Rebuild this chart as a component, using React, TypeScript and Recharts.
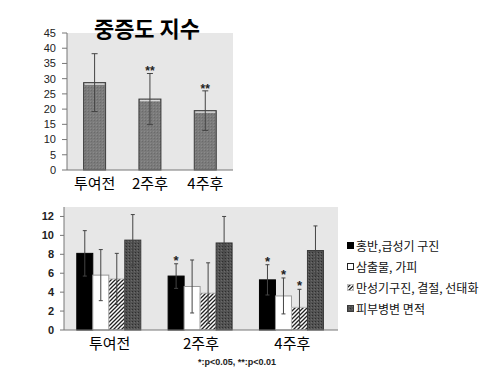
import React from "react";
import { BarChart, Bar, XAxis, YAxis, CartesianGrid, ErrorBar } from "recharts";

const categories = ["투여전", "2주후", "4주후"];

// 중증도 지수
const severity = [28.7, 23.3, 19.5];
const severityErr = [9.5, 8.4, 6.5];
const severitySig = ["", "**", "**"];
const severityTicks = [0, 5, 10, 15, 20, 25, 30, 35, 40, 45];

// 항목별 점수
const seriesNames = ["홍반,급성기 구진", "삼출물, 가피", "만성기구진, 결절, 선태화", "피부병변 면적"];
const erythema = [8.1, 5.7, 5.3];
const erythemaErr = [2.4, 1.3, 1.6];
const erythemaSig = ["", "*", "*"];
const exudate = [5.8, 4.6, 3.6];
const exudateErr = [2.7, 2.8, 1.9];
const exudateSig = ["", "", "*"];
const chronic = [5.4, 3.9, 2.4];
const chronicErr = [2.7, 3.2, 1.9];
const chronicSig = ["", "", "*"];
const lesionArea = [9.5, 9.2, 8.4];
const lesionAreaErr = [2.7, 2.8, 2.6];
const lesionAreaSig = ["", "", ""];
const itemTicks = [0, 2, 4, 6, 8, 10, 12];

const KR = '"Noto Sans CJK KR", "Noto Sans", sans-serif';
const NUM = '"Liberation Sans", Arial, sans-serif';
const PLOT_BG = "#e7e7e7";

const topData = categories.map((c, i) => ({
  name: c, value: severity[i], err: severityErr[i], sig: severitySig[i],
}));

const itemVals = [erythema, exudate, chronic, lesionArea];
const itemErrs = [erythemaErr, exudateErr, chronicErr, lesionAreaErr];
const itemSigs = [erythemaSig, exudateSig, chronicSig, lesionAreaSig];
const itemData = categories.map((c, i) => {
  const row: any = { name: c };
  itemVals.forEach((arr, k) => {
    row["v" + k] = arr[i];
    row["e" + k] = itemErrs[k][i];
    row["g" + k] = itemSigs[k][i];
  });
  return row;
});

const itemStyle = [
  { fill: "#000000", stroke: "#000000" },
  { fill: "#ffffff", stroke: "#9a9a9a" },
  { fill: "url(#hatch)", stroke: "#bbbbbb" },
  { fill: "url(#dots)", stroke: "#3a3a3a" },
];

// 막대 + 유의성 별표
const makeShape = (k: string, fill: string, stroke: string, sigSize: number, gap: number, shine = false) =>
  (props: any) => {
    const { x, y, width, height, payload } = props;
    const v = payload["v" + k] ?? payload.value;
    const e = payload["e" + k] ?? payload.err;
    const s = payload["g" + k] ?? payload.sig;
    const capY = v ? y - (e * height) / v : y;
    return (
      <g>
        <rect x={x} y={y} width={width} height={height} fill={fill} stroke={stroke} strokeWidth={1} />
        {shine && (
          <line x1={x + 1} x2={x + width - 1} y1={y + 1.5} y2={y + 1.5} stroke="#d8d8d8" strokeWidth={1.5} />
        )}
        {s ? (
          <text x={x + width / 2} y={capY - gap} textAnchor="middle"
            fontFamily={NUM} fontWeight="bold" fontSize={sigSize} fill="#222">
            {s}
          </text>
        ) : null}
      </g>
    );
  };

const Patterns = () => (
  <defs>
    <pattern id="hatch" patternUnits="userSpaceOnUse" width={4} height={4}>
      <rect width={4} height={4} fill="#ffffff" />
      <path d="M-1,1 l2,-2 M0,4 l4,-4 M3,5 l2,-2" stroke="#222" strokeWidth={1.3} />
    </pattern>
    <pattern id="dots" patternUnits="userSpaceOnUse" width={3} height={3}>
      <rect width={3} height={3} fill="#525252" />
      <rect x={0} y={0} width={1} height={1} fill="#2e2e2e" />
      <rect x={2} y={1} width={1} height={1} fill="#6a6a6a" />
    </pattern>
    <pattern id="grain" patternUnits="userSpaceOnUse" width={3} height={3}>
      <rect width={3} height={3} fill="#7b7b7b" />
      <rect x={1} y={0} width={1} height={1} fill="#6b6b6b" />
      <rect x={0} y={2} width={1} height={1} fill="#8a8a8a" />
    </pattern>
  </defs>
);

const ItemLegend = () => (
  <div style={{ fontFamily: KR, fontSize: 12, color: "#111" }}>
    {seriesNames.map((n, i) => (
      <div key={n} style={{ height: 21, lineHeight: "21px", display: "flex", alignItems: "center" }}>
        <svg width={7} height={7} style={{ marginRight: 2, flex: "none" }}>
          <rect x={0.5} y={0.5} width={6} height={6} fill={itemStyle[i].fill}
            stroke={i === 1 ? "#222" : itemStyle[i].stroke} strokeWidth={1} />
        </svg>
        <span>{n}</span>
      </div>
    ))}
  </div>
);

export default function App() {
  return (
    <div style={{ position: "absolute", left: 0, top: 0, width: 482, height: 374, background: "#fff" }}>
      <div style={{ position: "absolute", left: 0, top: 0 }}>
        <BarChart width={260} height={200} data={topData}
          margin={{ top: 33, right: 27, left: 0, bottom: 0 }} barCategoryGap="30%">
          <Patterns />
          <CartesianGrid fill={PLOT_BG} horizontal={false} vertical={false} />
          <XAxis dataKey="name" height={30} tickLine={false} axisLine={{ stroke: "#777" }}
            tick={{ fontSize: 15, fill: "#000", fontFamily: KR }} />
          <YAxis width={67} domain={[0, 45]} ticks={severityTicks} interval={0}
            tickSize={5} tickMargin={6} axisLine={{ stroke: "#777" }} tickLine={{ stroke: "#777" }}
            tick={{ fontSize: 11, fill: "#222", fontFamily: NUM }} />
          <Bar dataKey="value" isAnimationActive={false}
            shape={makeShape("", "url(#grain)", "#3c3c3c", 12, -2, true)}>
            <ErrorBar dataKey="err" width={3} stroke="#444" strokeWidth={1} />
          </Bar>
        </BarChart>
      </div>

      <div style={{
        position: "absolute", left: 47, width: 200, top: 16, textAlign: "center",
        fontFamily: KR, fontWeight: "bold", fontSize: 22, lineHeight: 1,
      }}>
        중증도 지수
      </div>

      <div style={{ position: "absolute", left: 0, top: 195 }}>
        <BarChart width={482} height={179} data={itemData}
          margin={{ top: 12, right: 144, left: 0, bottom: 0 }} barCategoryGap="14%" barGap={0}>
          <Patterns />
          <CartesianGrid fill={PLOT_BG} horizontal={false} vertical={false} />
          <XAxis dataKey="name" height={44} tickLine={false} axisLine={{ stroke: "#777" }}
            tick={{ fontSize: 15, fill: "#000", fontFamily: KR }} />
          <YAxis width={64} domain={[0, 13]} ticks={itemTicks} interval={0}
            tickSize={4} tickMargin={6} axisLine={{ stroke: "#777" }} tickLine={{ stroke: "#777" }}
            tick={{ fontSize: 11, fill: "#222", fontFamily: NUM, fontWeight: "bold" }} />
          {seriesNames.map((n, k) => (
            <Bar key={n} name={n} dataKey={"v" + k} isAnimationActive={false}
              fill={itemStyle[k].fill}
              shape={makeShape(String(k), itemStyle[k].fill, itemStyle[k].stroke, 13, -1)}>
              <ErrorBar dataKey={"e" + k} width={2} stroke="#444" strokeWidth={1} />
            </Bar>
          ))}
        </BarChart>
      </div>

      <div style={{ position: "absolute", left: 347, top: 235, width: 135 }}>
        <ItemLegend />
      </div>

      <div style={{
        position: "absolute", left: 198, top: 357, fontFamily: NUM, fontWeight: "bold",
        fontSize: 9, color: "#222", whiteSpace: "nowrap",
      }}>
        *:p&lt;0.05, **:p&lt;0.01
      </div>
    </div>
  );
}
